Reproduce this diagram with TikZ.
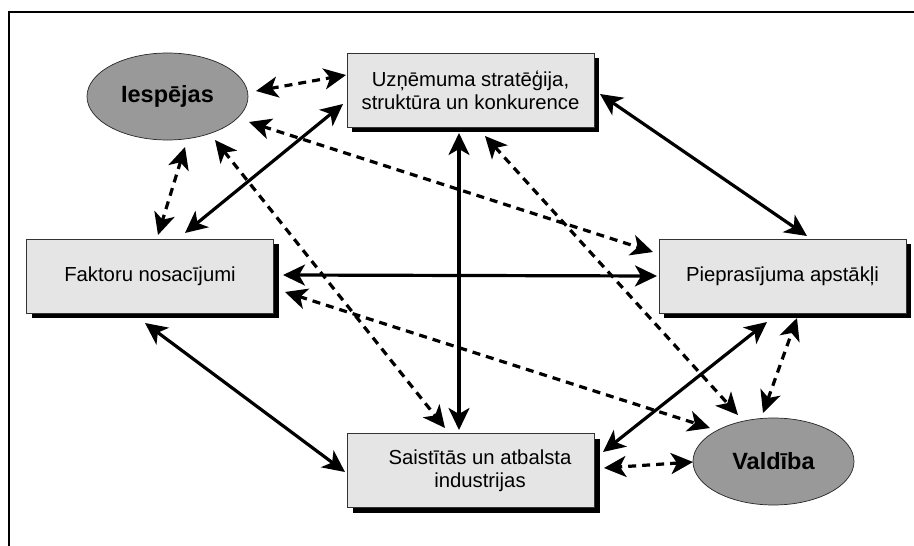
\documentclass[tikz,border=0pt]{standalone}
\usepackage{fontspec}
\setmainfont{Liberation Sans}
\usetikzlibrary{arrows.meta,calc,shadows,shapes.geometric}
\begin{document}
\begin{tikzpicture}[x=1pt,y=-1pt,
  box/.style={draw=black!80, line width=0.7pt, fill=black!10, minimum width=247pt, minimum height=74pt, inner sep=0pt, align=center, font=\fontsize{20.3}{23}\selectfont, drop shadow={shadow xshift=5pt, shadow yshift=-5pt, fill=black, opacity=1}},
  oval/.style={ellipse, draw=black!85, line width=0.7pt, fill=black!40, minimum width=161pt, minimum height=87pt, inner sep=0pt, font=\fontsize{23.5}{27}\selectfont\bfseries},
  tipx/.tip={Stealth[length=22pt,width=21pt,inset=6pt]},
  link/.style={line width=3.2pt, tipx-tipx},
  dlink/.style={link, dash pattern=on 8pt off 6pt},
]
\useasboundingbox (0,0) rectangle (914,546);
\draw[line width=2pt] (9,547) -- (9,12) -- (915,12);

\node[box] (top) at (470.5,90) {Uzņēmuma stratēģija,\\struktūra un konkurence};
\node[box] (fakt) at (150,276) {Faktoru nosacījumi};
\node[box] (piep) at (782.5,276) {Pieprasījuma apstākļi};
\node[box] (sais) at (471,470.5) {\hspace*{18pt}Saistītās un atbalsta\\\hspace*{18pt}industrijas};
\node[oval] (iesp) at (167.5,96.5) {Iespējas};
\node[oval] (vald) at (773.5,461.5) {Valdība};

% solid links
\draw[link] ($(top)+(-127.5,14)$) -- ($(fakt)+(35,-43)$);
\draw[link] ($(top)+(129.5,4)$) -- ($(piep)+(24.5,-40)$);
\draw[link] ($(top)+(-11.5,43)$) -- ($(sais)+(-12,-40.5)$);
\draw[link] ($(fakt)+(133,-1)$) -- ($(piep)+(-125.5,0)$);
\draw[link] ($(fakt)+(-5,47)$) -- ($(sais)+(-126,1.5)$);
\draw[link] ($(piep)+(-15.5,46)$) -- ($(sais)+(132,-18.5)$);

% dashed links
\draw[dlink] ($(iesp)+(88.5,-5.5)$) -- ($(top)+(-124.5,-15)$);
\draw[dlink] ($(iesp)+(17.5,50.5)$) -- ($(fakt)+(8,-41)$);
\draw[dlink] ($(iesp)+(81.5,25.5)$) -- ($(piep)+(-129.5,-24)$);
\draw[dlink] ($(iesp)+(47.5,43.5)$) -- ($(sais)+(-26,-42.5)$);
\draw[dlink] ($(top)+(14.5,46)$) -- ($(vald)+(-35.5,-46.5)$);
\draw[dlink] ($(fakt)+(135,16)$) -- ($(vald)+(-63.5,-33.5)$);
\draw[dlink] ($(vald)+(-80.5,0.5)$) -- ($(sais)+(133,-2.5)$);
\draw[dlink] ($(vald)+(-10.5,-48.5)$) -- ($(piep)+(14.5,42)$);
\end{tikzpicture}
\end{document}
